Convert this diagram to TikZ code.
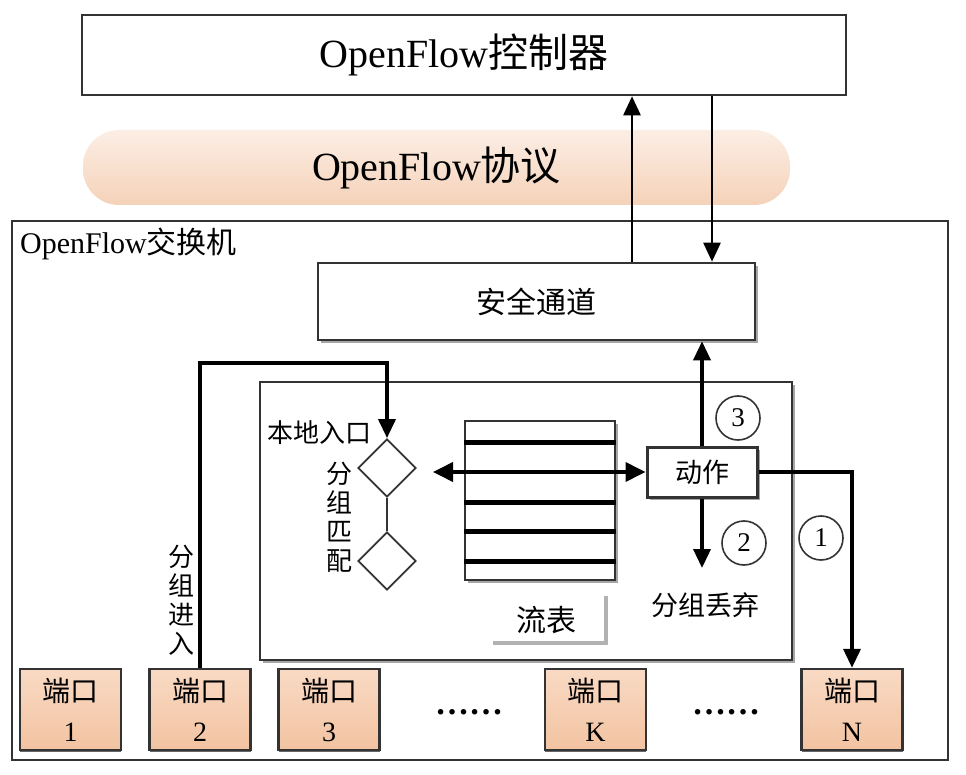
\documentclass[tikz,border=0pt]{standalone}
\usepackage{fontspec}
\setmainfont{Liberation Serif}
\newfontfamily\cjk{Noto Sans CJK SC}
\usetikzlibrary{arrows.meta,shadows,shapes.geometric}
\definecolor{edge}{HTML}{333333}
\definecolor{peachtop}{HTML}{F9DAC4}
\definecolor{peachbot}{HTML}{F2C3A1}
\definecolor{pilltop}{HTML}{FCEEE5}
\definecolor{pillbot}{HTML}{F5D2B9}
\tikzset{
  box/.style={draw=edge, line width=2.6pt, fill=white, inner sep=0pt},
  shbox/.style={box, drop shadow={shadow xshift=3pt, shadow yshift=-3pt, fill=black!35, opacity=1}},
  pill/.style={rounded corners=36pt, top color=pilltop, bottom color=pillbot, draw=none, inner sep=0pt},
  portbox/.style={draw=edge, line width=2.4pt, top color=peachtop, bottom color=peachbot, minimum width=101pt, minimum height=81pt, inner sep=0pt, align=center, font=\fontsize{28}{40}\selectfont,
     drop shadow={shadow xshift=0pt, shadow yshift=-2pt, fill=black!60, opacity=1}},
  dia/.style={diamond, draw=edge, line width=1.8pt, minimum width=58pt, minimum height=58pt, inner sep=0pt, aspect=1},
  num/.style={circle, draw=edge, line width=1.6pt, minimum size=44pt, inner sep=0pt, font=\fontsize{27}{27}\selectfont},
  arr/.style={line width=3.6pt, -{Triangle[length=19pt,width=17pt]}},
  tarr/.style={line width=2.6pt, -{Triangle[length=19pt,width=17pt]}},
  darr/.style={line width=3.8pt, {Triangle[length=20pt,width=19pt]}-{Triangle[length=20pt,width=19pt]}},
  tline/.style={line width=5pt},
  lbl/.style={inner sep=0pt, font=\fontsize{26}{29}\selectfont, align=center},
}
\begin{document}
\begin{tikzpicture}[x=1pt,y=-1pt]
\useasboundingbox (0,0) rectangle (966,775);
% controller
\node[box, minimum width=764pt, minimum height=80pt, font=\fontsize{40}{40}\selectfont] (ctrl) at (464,55) {OpenFlow{\cjk 控制器}};
% protocol pill
\node[pill, minimum width=707pt, minimum height=75pt, font=\fontsize{40}{40}\selectfont] (proto) at (436.5,167.5) {OpenFlow{\cjk 协议}};
% switch
\node[box, line width=2.4pt, minimum width=936pt, minimum height=539pt] (sw) at (480,490.5) {};
\node[anchor=west, inner sep=0pt, font=\fontsize{30}{30}\selectfont] (swlbl) at (20,244) {OpenFlow{\cjk 交换机}};
% secure channel
\node[shbox, minimum width=437pt, minimum height=77pt, font=\fontsize{30}{30}\selectfont] (sec) at (536.5,301.5) {\cjk 安全通道};
\coordinate (upx) at (632,0);
\coordinate (dnx) at (712,0);
\draw[tarr] (sec.north -| upx) -- (ctrl.south -| upx);
\draw[tarr] (ctrl.south -| dnx) -- (sec.north -| dnx);
% inner pipeline box
\node[shbox, minimum width=532pt, minimum height=278pt] (pipe) at (526,521) {};
% flow table
\node[shbox, line width=2.4pt, minimum width=150pt, minimum height=159pt] (ft) at (540,500.5) {};
\foreach \yy in {442,502,531,561} {\draw[tline] (ft.west |- 0,\yy) -- (ft.east |- 0,\yy);}
\node[lbl, font=\fontsize{30}{30}\selectfont] (ftlbl) at (546,620) {\cjk 流表};
\draw[black!30, line width=3.5pt] (493,643) -- (606,643) -- (606,596);
% diamonds
\node[dia] (d1) at (387,468) {};
\node[dia] (d2) at (387,561) {};
\draw[line width=1.8pt, edge] (d1.south) -- (d2.north);
\node[lbl, anchor=east] (local) at (372,433) {\cjk 本地入口};
\node[lbl] (match) at (339,517) {\cjk 分\\\cjk 组\\\cjk 匹\\\cjk 配};
% action
\node[shbox, line width=3pt, minimum width=110pt, minimum height=50pt, font=\fontsize{27}{27}\selectfont] (act) at (702,472) {\cjk 动作};
\coordinate (dl) at (433,472);
\draw[darr] (dl) -- (act.west);
\draw[arr] (act.north) -- (act.north |- sec.south);
\coordinate (drop) at (702,568);
\draw[arr] (act.south) -- (drop);
\node[lbl, font=\fontsize{27}{27}\selectfont] (droplbl) at (705,605) {\cjk 分组丢弃};
\node[num] (c3) at (738,418) {3};
\node[num] (c2) at (744,543) {2};
\node[num] (c1) at (821,538) {1};
% ports
\node[portbox] (p1) at (70.5,709.5) {{\cjk 端口}\\1};
\node[portbox] (p2) at (200,709.5) {{\cjk 端口}\\2};
\node[portbox] (p3) at (329,709.5) {{\cjk 端口}\\3};
\node[portbox] (pK) at (595.5,709.5) {{\cjk 端口}\\K};
\node[portbox] (pN) at (852,709.5) {{\cjk 端口}\\N};
\node[inner sep=0pt, font=\fontsize{34}{34}\selectfont\bfseries] (dots1) at (469,712) {……};
\node[inner sep=0pt, font=\fontsize{34}{34}\selectfont\bfseries] (dots2) at (726,712) {……};
% packet in
\coordinate (pin) at (387,363);
\draw[arr] (p2.north) |- (pin) -- (d1.north);
\node[lbl] (inlbl) at (181,600) {\cjk 分\\\cjk 组\\\cjk 进\\\cjk 入};
% output to port N
\draw[arr] (act.east) -| (pN.north);
\end{tikzpicture}
\end{document}
